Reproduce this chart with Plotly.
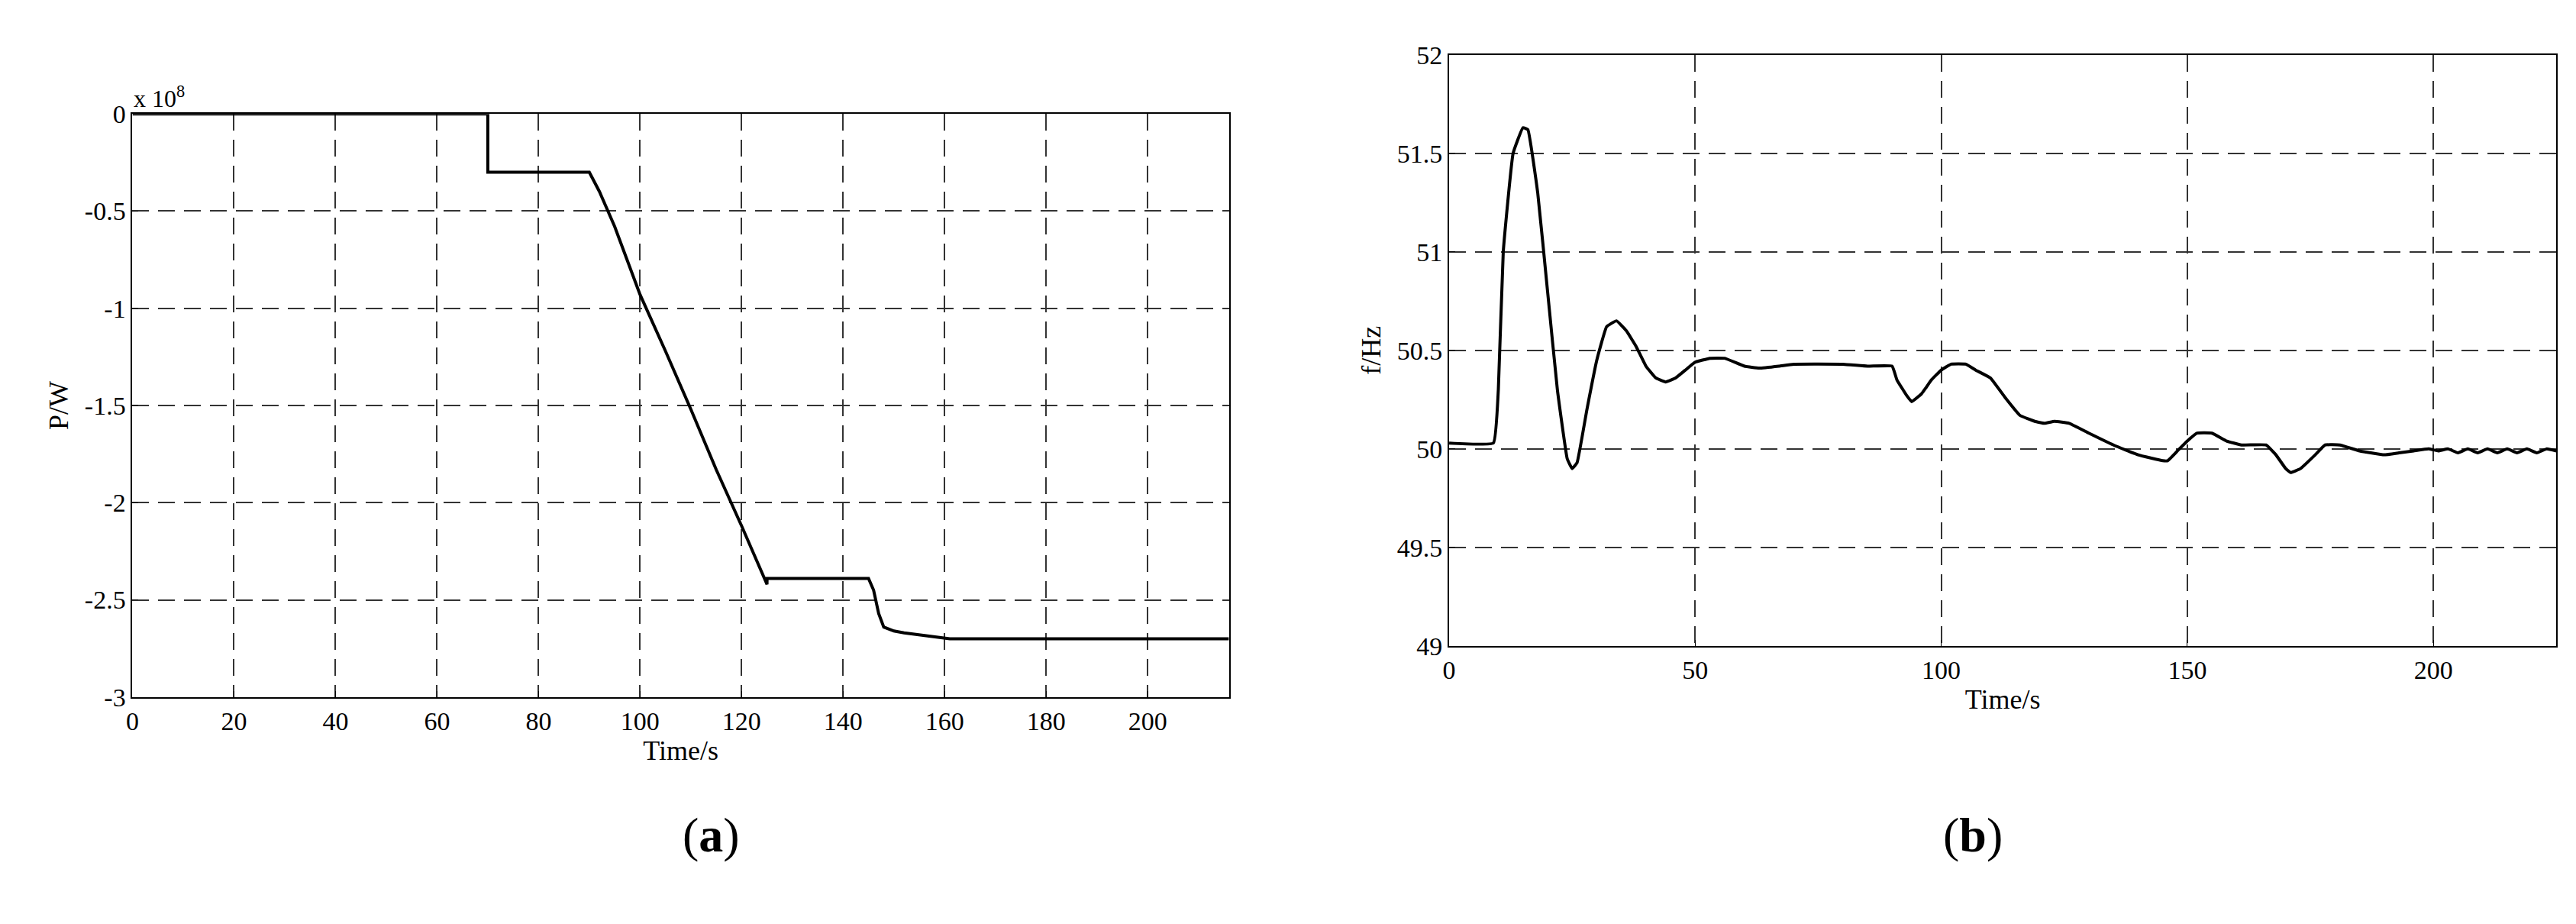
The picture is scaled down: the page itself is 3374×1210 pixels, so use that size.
import plotly.graph_objects as go

# Panel (a): power, units of 1e8 W
t_a = [0, 70, 70.01, 90, 92, 95, 100, 105, 110, 115, 120, 125, 125.01, 145, 146, 147, 148, 150, 152, 155, 161, 216]
p_a = [0, 0, -0.30, -0.30, -0.40, -0.58, -0.93, -1.22, -1.52, -1.83, -2.12, -2.42, -2.39, -2.39, -2.45, -2.57, -2.64, -2.66, -2.67, -2.68, -2.70, -2.70]

# Panel (b): frequency
t_b = [0, 9, 10, 11, 13, 15, 16, 18, 20, 22, 24, 25, 26, 28, 30, 32, 34, 36, 38, 40, 42, 44, 46, 48, 50, 53, 56, 60, 63,
       67, 70, 80, 85, 90, 91, 93, 94, 96, 98, 100, 102, 105, 107, 110, 113, 116, 119, 121, 123, 126, 130, 135, 140, 145,
       146, 148, 150, 152, 155, 158, 161, 166, 168, 170, 171, 173, 176, 178, 181, 185, 190, 193, 196, 199, 201, 203, 205,
       207, 209, 211, 213, 215, 217, 219, 221, 223, 225]
f_b = [50.03, 50.03, 50.3, 51.0, 51.5, 51.63, 51.62, 51.3, 50.8, 50.3, 49.95, 49.9, 49.93, 50.2, 50.45, 50.62, 50.65, 50.6,
       50.52, 50.42, 50.36, 50.34, 50.36, 50.4, 50.44, 50.46, 50.46, 50.42, 50.41, 50.42, 50.43, 50.43, 50.42, 50.42,
       50.35, 50.27, 50.24, 50.28, 50.35, 50.4, 50.43, 50.43, 50.4, 50.36, 50.26, 50.17, 50.14, 50.13, 50.14, 50.13,
       50.08, 50.02, 49.97, 49.94, 49.94, 49.99, 50.04, 50.08, 50.08, 50.04, 50.02, 50.02, 49.97, 49.9, 49.88, 49.9,
       49.97, 50.02, 50.02, 49.99, 49.97, 49.98, 49.99, 50.0, 49.99, 50.0, 49.98, 50.0, 49.98, 50.0, 49.98, 50.0, 49.98,
       50.0, 49.98, 50.0, 49.99]

xa_ticks = list(range(0, 201, 20))
ya_ticks = [0, -0.5, -1, -1.5, -2, -2.5, -3]
ya_labels = ["0", "-0.5", "-1", "-1.5", "-2", "-2.5", "-3"]
xb_ticks = [0, 50, 100, 150, 200]
yb_ticks = [49, 49.5, 50, 50.5, 51, 51.5, 52]
yb_labels = ["49", "49.5", "50", "50.5", "51", "51.5", "52"]

FONT = "Liberation Serif"
fig = go.Figure()
fig.add_trace(go.Scatter(x=t_a, y=p_a, mode="lines", line=dict(color="black", width=4), xaxis="x", yaxis="y"))
fig.add_trace(go.Scatter(x=t_b, y=f_b, mode="lines", line=dict(color="black", width=4, shape="spline", smoothing=0.3),
                         xaxis="x2", yaxis="y2"))

ax = dict(showline=True, linecolor="black", linewidth=2, mirror=True, ticks="inside", ticklen=8,
          tickcolor="black", showgrid=True, gridcolor="#333", griddash="22px,12px", gridwidth=1.5,
          zeroline=False, tickfont=dict(family=FONT, size=34, color="black"))

fig.update_layout(
    width=3374, height=1210, margin=dict(l=0, r=0, t=0, b=0),
    paper_bgcolor="white", plot_bgcolor="white", showlegend=False,
    font=dict(family=FONT, color="black"),
    xaxis=dict(ax, domain=[0.0465, 0.4733], range=[0, 216], tickvals=xa_ticks, anchor="y",
               title=dict(text="Time/s", font=dict(family=FONT, size=36), standoff=8)),
    yaxis=dict(ax, domain=[0.244, 0.895], range=[-3, 0], tickvals=ya_ticks, ticktext=ya_labels, anchor="x",
               title=dict(text="P/W", font=dict(family=FONT, size=36), standoff=10)),
    xaxis2=dict(ax, domain=[0.559, 0.990], range=[0, 225], tickvals=xb_ticks, anchor="y2",
                title=dict(text="Time/s", font=dict(family=FONT, size=36), standoff=8)),
    yaxis2=dict(ax, domain=[0.301, 0.961], range=[49, 52], tickvals=yb_ticks, ticktext=yb_labels, anchor="x2",
                title=dict(text="f/Hz", font=dict(family=FONT, size=36), standoff=10)),
    annotations=[
        dict(text="x 10<sup>8</sup>", x=0.0465, y=0.895, xref="paper", yref="paper", xanchor="left", yanchor="bottom",
             showarrow=False, font=dict(family=FONT, size=32)),
        dict(text="(<b>a</b>)", x=0.26, y=0.058, xref="paper", yref="paper", showarrow=False,
             font=dict(family=FONT, size=64)),
        dict(text="(<b>b</b>)", x=0.775, y=0.058, xref="paper", yref="paper", showarrow=False,
             font=dict(family=FONT, size=64)),
    ],
)
fig.write_html("out.html")
